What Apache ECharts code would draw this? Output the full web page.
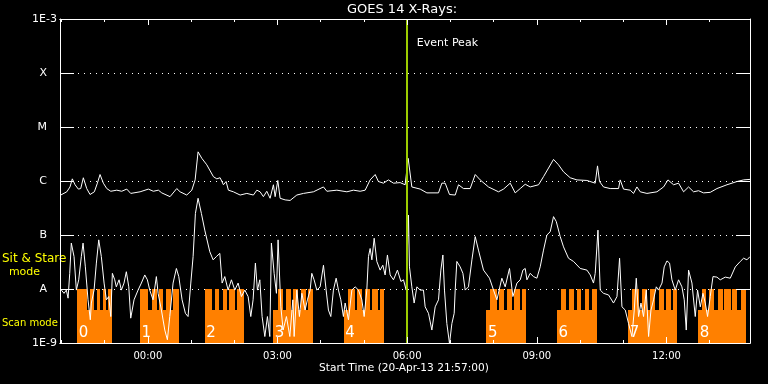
<!DOCTYPE html>
<html><head><meta charset="utf-8">
<script src="https://cdn.jsdelivr.net/npm/echarts@6/dist/echarts.min.js"></script>
<style>html,body{margin:0;padding:0;background:#000;}#c{width:768px;height:384px;}</style>
</head><body><div id="c"></div>
<script>
// Time in minutes relative to 21-Apr-13 00:00 (negative = 20-Apr). Start 21:57.
const xMin = -122, xMax = 836;
const xTickLabels = ['00:00', '03:00', '06:00', '09:00', '12:00'];
const majorTicks = [0, 180, 360, 540, 720];
const minorTicks = [-120, -60, 0, 60, 120, 180, 240, 300, 360, 420, 480, 540, 600, 660, 720, 780];
const yTickValues = [1e-9, 1e-8, 1e-7, 1e-6, 1e-5, 1e-4, 1e-3];
const yTickLabels = ['1E-9', 'A', 'B', 'C', 'M', 'X', '1E-3'];
const eventPeak = 359.6;

// [minute, log10(flux W/m^2)] long channel (1-8 A)
const longChannel = [
[-121,-6.26],[-112.6,-6.20],[-108.1,-6.11],[-104.9,-5.96],[-101.1,-6.07],[-96.5,-6.15],[-93.2,-6.14],[-89.6,-5.94],
[-84.9,-6.14],[-80.3,-6.25],[-74.3,-6.20],[-70.1,-6.04],[-66.4,-5.88],[-61.8,-6.04],[-57.1,-6.14],[-51.5,-6.19],
[-43.2,-6.17],[-36.3,-6.19],[-29.3,-6.15],[-23.8,-6.23],[-10.8,-6.20],[0.7,-6.15],[7.6,-6.19],[14.6,-6.17],
[19.3,-6.22],[30.8,-6.29],[40.1,-6.14],[44.7,-6.20],[54.0,-6.26],[61.0,-6.17],[65.6,-5.98],[69.7,-5.46],
[74.9,-5.58],[81.8,-5.70],[91.0,-5.92],[95.7,-5.96],[100.3,-5.94],[104.9,-6.07],[108.6,-6.01],[111.8,-6.17],
[118.7,-6.20],[128.1,-6.26],[137.4,-6.23],[146.5,-6.26],[151.3,-6.17],[155.8,-6.20],[160.4,-6.29],[165.1,-6.19],
[169.7,-6.32],[174.3,-6.07],[176.7,-6.29],[180.4,-5.99],[183.6,-6.32],[190.6,-6.35],[197.5,-6.36],[206.8,-6.26],
[216.0,-6.23],[229.9,-6.20],[243.8,-6.11],[248.5,-6.19],[262.4,-6.17],[276.3,-6.20],[285.4,-6.17],[294.7,-6.19],
[301.7,-6.17],[308.6,-5.98],[315.6,-5.88],[320.1,-6.01],[327.1,-6.04],[334.0,-5.98],[341.0,-6.04],[350.3,-6.03],
[357.2,-6.07],[361.4,-5.58],[366.5,-6.11],[378.1,-6.15],[387.4,-6.22],[403.5,-6.22],[408.2,-6.04],[412.8,-6.04],
[418.8,-6.25],[426.7,-6.26],[431.3,-6.07],[438.2,-6.14],[447.5,-6.14],[454.5,-5.88],[461.4,-5.98],[472.9,-6.11],
[486.8,-6.20],[493.8,-6.15],[503.1,-6.04],[510.0,-6.22],[517.0,-6.14],[523.9,-6.06],[530.8,-6.11],[542.4,-6.07],
[549.3,-5.92],[556.3,-5.76],[563.2,-5.60],[570.1,-5.70],[577.1,-5.83],[586.4,-5.94],[595.7,-5.98],[609.6,-5.99],
[621.1,-6.04],[624.3,-5.72],[627.1,-6.01],[632.6,-6.11],[641.9,-6.14],[653.5,-6.14],[655.8,-5.98],[660.4,-6.15],
[669.7,-6.17],[674.3,-6.23],[679.0,-6.11],[683.6,-6.20],[692.9,-6.23],[706.8,-6.20],[716.0,-6.11],[722.1,-5.98],
[729.9,-6.07],[736.8,-6.04],[743.8,-6.20],[750.7,-6.11],[757.6,-6.20],[764.6,-6.18],[771.5,-6.22],[780.8,-6.21],
[790.1,-6.14],[804.0,-6.07],[817.9,-6.01],[827.1,-5.98],[836,-5.97]
];

// [minute, log10(flux)] short channel (0.5-4 A)
const shortChannel = [
[-120.1,-8.02],[-116.4,-8.08],[-113.2,-8.02],[-110.8,-8.17],[-108.5,-7.71],[-106.3,-7.15],[-102.5,-7.40],[-99.3,-8.02],
[-96.0,-7.83],[-92.4,-7.40],[-90.0,-7.15],[-86.8,-7.59],[-83.1,-8.20],[-79.9,-8.57],[-78.5,-8.26],[-74.7,-8.02],
[-71.5,-7.52],[-68.2,-7.09],[-64.6,-7.40],[-60.8,-7.89],[-57.6,-8.20],[-54.3,-8.14],[-51.5,-8.51],[-49.3,-7.71],
[-46.0,-7.83],[-43.8,-7.96],[-40.0,-7.83],[-36.8,-8.02],[-33.1,-7.89],[-29.9,-7.68],[-26.5,-7.96],[-23.8,-8.54],
[-19.2,-8.20],[-13.6,-8.02],[-9.0,-7.89],[-4.3,-7.74],[-0.7,-7.83],[2.6,-8.02],[7.2,-8.20],[11.8,-7.77],
[14.2,-8.08],[18.8,-8.39],[23.5,-8.76],[27.1,-8.94],[30.4,-8.51],[35.0,-7.89],[39.6,-7.62],[42.9,-7.77],
[47.5,-8.20],[52.1,-8.45],[55.8,-8.51],[59.6,-7.89],[62.8,-7.40],[66.0,-6.60],[69.7,-6.32],[74.3,-6.60],
[79.0,-6.91],[86.0,-7.31],[90.6,-7.46],[95.1,-7.40],[99.9,-7.34],[103.1,-7.89],[106.8,-7.77],[111.4,-8.02],
[116.0,-7.83],[120.7,-8.02],[125.3,-7.89],[129.9,-8.14],[134.6,-8.02],[139.2,-8.14],[142.9,-8.51],[146.1,-8.20],
[149.3,-7.52],[152.1,-8.02],[155.4,-7.83],[158.6,-8.51],[162.4,-8.88],[166.0,-8.51],[169.3,-8.88],[171.5,-7.15],
[175.3,-7.71],[178.5,-8.08],[180.8,-7.09],[184.6,-8.33],[187.8,-8.76],[192.4,-8.51],[197.1,-8.88],[201.3,-8.20],
[203.1,-8.88],[206.8,-8.02],[210.4,-8.51],[213.8,-8.08],[218.3,-8.39],[221.5,-8.20],[225.3,-8.02],[227.6,-7.71],
[230.8,-7.83],[234.6,-8.02],[239.2,-7.96],[243.8,-7.56],[247.5,-8.02],[250.7,-8.39],[254.0,-8.51],[257.6,-8.02],
[261.4,-7.80],[264.6,-8.02],[267.9,-8.20],[271.5,-8.51],[273.9,-8.26],[278.5,-8.57],[283.2,-8.02],[287.8,-7.96],
[292.4,-8.02],[297.1,-8.20],[300.3,-8.51],[304.0,-8.02],[306.3,-7.40],[308.6,-7.25],[311.0,-7.46],[314.2,-7.06],
[317.9,-7.49],[322.5,-7.65],[326.2,-7.56],[329.4,-7.74],[332.6,-7.37],[336.4,-7.74],[341.0,-7.83],[346.5,-7.65],
[351.3,-7.86],[354.9,-7.83],[358.6,-8.02],[361.8,-6.63],[363.2,-7.59],[366.5,-7.96],[369.7,-8.26],[373.5,-7.96],
[378.1,-8.02],[382.6,-8.02],[385.0,-8.33],[389.6,-8.45],[394.3,-8.76],[398.9,-8.33],[403.5,-8.20],[406.8,-7.65],
[409.6,-7.37],[411.8,-8.02],[415.1,-8.64],[418.8,-9.01],[422.1,-8.64],[425.3,-8.45],[426.7,-8.02],[429.0,-7.49],
[433.6,-7.59],[437.4,-7.71],[440.6,-8.02],[445.1,-7.96],[449.9,-7.46],[454.5,-7.03],[459.0,-7.28],[466.0,-7.65],
[474.3,-7.80],[479.9,-8.02],[484.6,-8.20],[491.5,-7.80],[496.1,-7.96],[502.1,-7.62],[506.8,-8.14],[512.4,-7.89],
[517.0,-7.83],[520.7,-7.65],[523.9,-7.62],[526.3,-7.83],[530.8,-7.71],[535.4,-7.77],[540.1,-7.80],[544.7,-7.59],
[549.3,-7.28],[554.0,-7.00],[558.6,-6.94],[563.2,-6.66],[567.0,-6.75],[572.5,-7.03],[577.1,-7.22],[584.0,-7.43],
[591.0,-7.49],[600.3,-7.62],[609.6,-7.65],[614.2,-7.74],[618.7,-7.89],[621.1,-7.71],[624.9,-6.91],[628.1,-8.02],
[632.6,-8.08],[639.6,-8.11],[646.5,-8.26],[651.3,-8.14],[654.9,-7.43],[658.2,-8.33],[662.8,-8.39],[667.4,-8.64],
[672.1,-8.88],[675.3,-8.39],[678.1,-7.80],[681.3,-8.51],[684.6,-8.26],[688.2,-8.51],[692.0,-8.02],[695.2,-8.88],
[698.5,-8.39],[702.1,-8.20],[705.9,-7.96],[709.0,-8.02],[713.8,-7.89],[716.9,-7.59],[720.7,-7.48],[724.3,-7.52],
[727.6,-7.83],[732.2,-8.02],[736.8,-7.83],[741.5,-7.96],[744.7,-8.20],[747.5,-8.76],[750.7,-7.65],[755.4,-7.89],
[760.0,-8.51],[763.2,-8.02],[767.0,-8.33],[770.7,-8.08],[773.9,-8.26],[777.1,-8.51],[780.8,-8.14],[784.6,-7.77],
[790.1,-7.78],[794.7,-7.83],[801.7,-7.78],[808.6,-7.80],[815.6,-7.59],[822.5,-7.49],[827.1,-7.43],[831.8,-7.46],
[836,-7.40]
];

// Instrument mode: boundary minutes and state after each boundary (0 = off, 1 = scan, 2 = sit & stare)
const modeTimes = [
-98,-84,-80,-75,-71,-66,-62,-58,-55,-50,
-11,0,6,13,16,21,25,32,35,43,
79,89,93,99,104,110,113,121,124,134,
174,181,188,192,199,202,209,213,220,222,229,
272,278,288,291,297,302,309,311,320,322,328,
470,475,485,488,495,499,506,509,517,520,525,
568,574,581,585,591,596,602,607,613,617,624,
667,672,682,686,693,697,704,709,716,720,727,729,734,
764,770,775,779,786,791,798,800,809,811,818,823,831
];
const modeStates = [
2,1,2,1,2,1,2,1,2,0,
2,1,2,1,2,1,2,1,2,0,
2,1,2,1,2,1,2,1,2,0,
1,2,1,2,1,2,1,2,1,2,0,
1,2,1,2,1,2,1,2,1,2,0,
1,2,1,2,1,2,1,2,1,2,0,
1,2,1,2,1,2,1,2,1,2,0,
1,2,1,2,1,2,1,2,1,2,1,2,0,
1,2,1,2,1,2,1,2,1,2,1,2,0
];
const stateLevel = [1e-9, 4e-9, 1e-8];
const blockStarts = [-98, -11, 79, 174, 272, 470, 568, 667, 764];
const blockNames = ['0', '1', '2', '3', '4', '5', '6', '7', '8'];

const FONT = 'DejaVu Sans';
const WHITE = '#ffffff';
const ORANGE = '#ff8000';

const segs = [];
for (let i = 0; i < modeTimes.length - 1; i++) {
  if (modeStates[i] > 0) segs.push([modeTimes[i], modeTimes[i + 1], stateLevel[modeStates[i]]]);
}
const toFlux = a => a.map(p => [p[0], Math.pow(10, p[1])]);

function xAx(opts) {
  return Object.assign({
    type: 'value', min: xMin, max: xMax, gridIndex: 0,
    axisLine: {show: true, onZero: false, lineStyle: {color: WHITE, width: 1}},
    splitLine: {show: false}, axisLabel: {show: false}, z: 10
  }, opts);
}
function yAx(opts) {
  return Object.assign({
    type: 'log', logBase: 10, min: 1e-9, max: 1e-3, interval: 1, gridIndex: 0,
    axisLine: {show: true, onZero: false, lineStyle: {color: WHITE, width: 1}},
    splitLine: {show: false}, axisLabel: {show: false}, z: 10
  }, opts);
}

const chart = echarts.init(document.getElementById('c'));
const option = {
  backgroundColor: '#000000',
  animation: false,
  grid: {left: 60, right: 18, top: 19, bottom: 41, containLabel: false},
  xAxis: [
    xAx({position: 'bottom',
      axisTick: {show: true, inside: true, length: 6, customValues: majorTicks, lineStyle: {color: WHITE}},
      axisLabel: {show: true, customValues: majorTicks, color: WHITE, fontFamily: FONT, fontSize: 10, margin: 8,
        formatter: v => xTickLabels[majorTicks.indexOf(Math.round(v))] || ''}}),
    xAx({position: 'bottom',
      axisTick: {show: true, inside: true, length: 3, customValues: minorTicks, lineStyle: {color: WHITE}}}),
    xAx({position: 'top',
      axisTick: {show: true, inside: true, length: 6, customValues: majorTicks, lineStyle: {color: WHITE}}}),
    xAx({position: 'top',
      axisTick: {show: true, inside: true, length: 3, customValues: minorTicks, lineStyle: {color: WHITE}}})
  ],
  yAxis: [
    yAx({position: 'left',
      axisTick: {show: true, inside: true, length: 14, lineStyle: {color: WHITE}},
      axisLabel: {show: true, color: WHITE, fontFamily: FONT, fontSize: 11, margin: 3,
        formatter: v => {
          const k = Math.round(Math.log10(v)) + 9;
          const t = yTickLabels[k];
          return t.length > 1 ? t : '{l|' + t + '}';
        },
        rich: {l: {color: WHITE, fontFamily: FONT, fontSize: 11, padding: [0, 10, 0, 0]}}}}),
    yAx({position: 'right',
      axisTick: {show: true, inside: true, length: 14, lineStyle: {color: WHITE}}}),
    yAx({position: 'left', z: 0, axisLine: {show: false, onZero: false}, axisTick: {show: false},
      splitLine: {show: true, lineStyle: {color: WHITE, width: 1, type: [1, 5]}}})
  ],
  series: [
    {
      type: 'custom', name: 'mode', xAxisIndex: 0, yAxisIndex: 0, z: 3, clip: true,
      data: segs,
      renderItem: (params, api) => {
        const p0 = api.coord([api.value(0), api.value(2)]);
        const p1 = api.coord([api.value(1), 1e-9]);
        const x0 = Math.round(p0[0]), x1 = Math.round(p1[0]);
        const y0 = Math.round(p0[1]), y1 = Math.round(p1[1]);
        return {type: 'rect', shape: {x: x0, y: y0, width: x1 - x0, height: y1 - y0},
          style: {fill: ORANGE, stroke: null, lineWidth: 0}};
      }
    },
    {
      type: 'custom', name: 'blockLabels', xAxisIndex: 0, yAxisIndex: 0, z: 4,
      data: blockStarts.map((s, i) => [s, blockNames[i]]),
      renderItem: (params, api) => {
        const p = api.coord([api.value(0), 1e-9]);
        return {type: 'text', x: p[0] + 1.5, y: p[1] - 2,
          style: {text: blockNames[params.dataIndex], fill: WHITE, font: '15px ' + FONT,
            textAlign: 'left', textVerticalAlign: 'bottom'}};
      }
    },
    {
      type: 'line', name: 'long', xAxisIndex: 0, yAxisIndex: 0, z: 5, clip: true,
      data: toFlux(longChannel), showSymbol: false, symbol: 'none',
      lineStyle: {color: WHITE, width: 1}
    },
    {
      type: 'line', name: 'short', xAxisIndex: 0, yAxisIndex: 0, z: 5, clip: true,
      data: toFlux(shortChannel), showSymbol: false, symbol: 'none',
      lineStyle: {color: WHITE, width: 1},
      markLine: {
        silent: true, symbol: 'none', animation: false, z: 6,
        lineStyle: {color: '#9ccc00', width: 2, type: 'solid'},
        label: {show: false},
        data: [{xAxis: eventPeak}]
      }
    }
  ],
  graphic: [
    {type: 'text', x: 402, y: 10, style: {text: 'GOES 14 X-Rays:', fill: WHITE, font: '13px ' + FONT, textAlign: 'center', textVerticalAlign: 'middle'}},
    {type: 'text', x: 404, y: 368, style: {text: 'Start Time (20-Apr-13 21:57:00)', fill: WHITE, font: '10.6px ' + FONT, textAlign: 'center', textVerticalAlign: 'middle'}},
    {type: 'text', x: 2, y: 259, style: {text: 'Sit & Stare', fill: '#ffff00', font: '12px ' + FONT, textAlign: 'left', textVerticalAlign: 'middle'}},
    {type: 'text', x: 24.5, y: 272, style: {text: 'mode', fill: '#ffff00', font: '11px ' + FONT, textAlign: 'center', textVerticalAlign: 'middle'}},
    {type: 'text', x: 2, y: 323, style: {text: 'Scan mode', fill: '#ffff00', font: '10px ' + FONT, textAlign: 'left', textVerticalAlign: 'middle'}}
  ]
};
chart.setOption(option);
const px = chart.convertToPixel({xAxisIndex: 0}, eventPeak);
chart.setOption({graphic: option.graphic.concat([
  {type: 'text', x: px + 10, y: 43, style: {text: 'Event Peak', fill: WHITE, font: '11px ' + FONT, textAlign: 'left', textVerticalAlign: 'middle'}}
])});
</script>
</body></html>
